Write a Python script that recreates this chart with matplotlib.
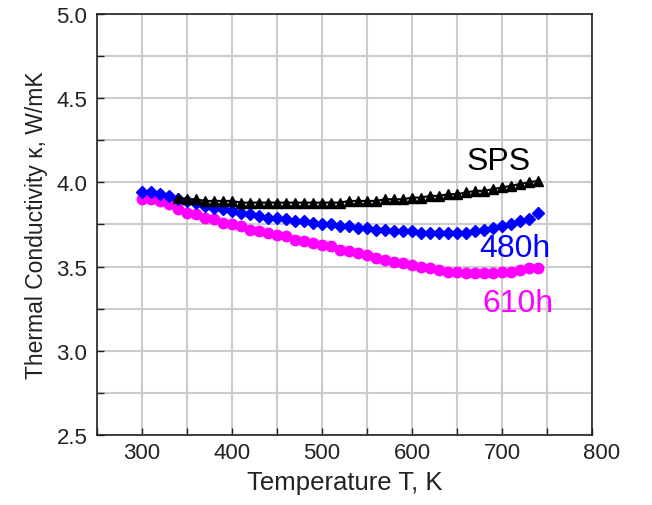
import matplotlib
matplotlib.use("Agg")
import matplotlib.pyplot as plt
from matplotlib.ticker import MultipleLocator
import matplotlib.transforms as mtransforms

plt.rcParams['font.family'] = ['Liberation Sans', 'DejaVu Sans']

temp_all = [300, 310, 320, 330, 340, 350, 360, 370, 380, 390, 400, 410, 420, 430, 440,
            450, 460, 470, 480, 490, 500, 510, 520, 530, 540, 550, 560, 570, 580, 590,
            600, 610, 620, 630, 640, 650, 660, 670, 680, 690, 700, 710, 720, 730, 740]

temp_sps = [340, 350, 360, 370, 380, 390, 400, 410, 420, 430, 440,
            450, 460, 470, 480, 490, 500, 510, 520, 530, 540, 550, 560, 570, 580, 590,
            600, 610, 620, 630, 640, 650, 660, 670, 680, 690, 700, 710, 720, 730, 740]
k_sps = [3.91, 3.90, 3.90, 3.89, 3.89, 3.89, 3.89, 3.88, 3.88, 3.88, 3.88,
         3.88, 3.88, 3.88, 3.88, 3.88, 3.88, 3.88, 3.88, 3.89, 3.89, 3.89, 3.89, 3.90, 3.90, 3.90,
         3.91, 3.91, 3.92, 3.92, 3.93, 3.93, 3.94, 3.95, 3.95, 3.96, 3.97, 3.98, 3.99, 4.00, 4.01]

k_480 = [3.94, 3.94, 3.93, 3.92, 3.90, 3.89, 3.88, 3.86, 3.85, 3.84, 3.83, 3.82, 3.81, 3.80, 3.79,
         3.79, 3.78, 3.77, 3.77, 3.76, 3.75, 3.75, 3.74, 3.74, 3.73, 3.73, 3.72, 3.72, 3.71, 3.71,
         3.71, 3.70, 3.70, 3.70, 3.70, 3.70, 3.70, 3.71, 3.72, 3.73, 3.74, 3.75, 3.77, 3.78, 3.82]

k_610 = [3.90, 3.90, 3.89, 3.87, 3.84, 3.82, 3.81, 3.79, 3.78, 3.76, 3.75, 3.74, 3.72, 3.71, 3.70,
         3.69, 3.68, 3.66, 3.65, 3.64, 3.63, 3.62, 3.60, 3.59, 3.58, 3.57, 3.55, 3.54, 3.53, 3.52,
         3.51, 3.50, 3.49, 3.48, 3.47, 3.47, 3.46, 3.46, 3.46, 3.46, 3.47, 3.47, 3.48, 3.49, 3.49]

x_ticks = [300, 400, 500, 600, 700, 800]
y_ticks = [2.5, 3.0, 3.5, 4.0, 4.5, 5.0]
y_tick_labels = ['2.5', '3.0', '3.5', '4.0', '4.5', '5.0']

fig = plt.figure(figsize=(6.52, 5.06), dpi=100)
ax = fig.add_axes([0.1488, 0.1383, 0.7592, 0.8321])

ax.plot(temp_all, k_610, '-o', color='#ff00ff', ms=7.5, lw=1, mec='#ff00ff', zorder=3)
ax.plot(temp_all, k_480, '-D', color='#0000ff', ms=6.5, lw=1, mec='#0000ff', zorder=4)
ax.plot(temp_sps, k_sps, '-^', color='black', ms=7.5, lw=1.5, zorder=5)

ax.set_xlim(250, 800)
ax.set_ylim(2.5, 5.0)
ax.xaxis.set_minor_locator(MultipleLocator(50))
ax.yaxis.set_minor_locator(MultipleLocator(0.25))
ax.set_xticks(x_ticks)
ax.set_yticks(y_ticks)
ax.set_yticklabels(y_tick_labels)

ax.grid(True, which='both', color='#cccccc', lw=1.5, zorder=0)
ax.set_axisbelow(True)
ax.tick_params(which='both', direction='in', length=5, width=1, labelsize=16,
               top=False, right=False, colors='#222222', labelcolor='#222222')
ax.tick_params(axis='x', pad=5)
ax.tick_params(axis='y', pad=7)
for s in ax.spines.values():
    s.set_linewidth(1.2)
    s.set_color('#222222')

# last x tick label sits slightly right of its tick in the reference
last_lbl = ax.get_xticklabels()[-1]
last_lbl.set_transform(last_lbl.get_transform() +
                       mtransforms.ScaledTranslation(10 / 100, 0, fig.dpi_scale_trans))

ax.set_xlabel('Temperature T, K', fontsize=18.5, color='#222222', labelpad=5)
ax.set_ylabel('Thermal Conductivity κ, W/mK', fontsize=16.5, color='#222222', labelpad=6)

ax.text(696, 4.125, 'SPS', fontsize=23, color='black', ha='center', va='center')
ax.text(714, 3.61, '480h', fontsize=23, color='#0000ff', ha='center', va='center')
ax.text(718, 3.286, '610h', fontsize=23, color='#ff00ff', ha='center', va='center')

fig.savefig('out.png', dpi=100)
